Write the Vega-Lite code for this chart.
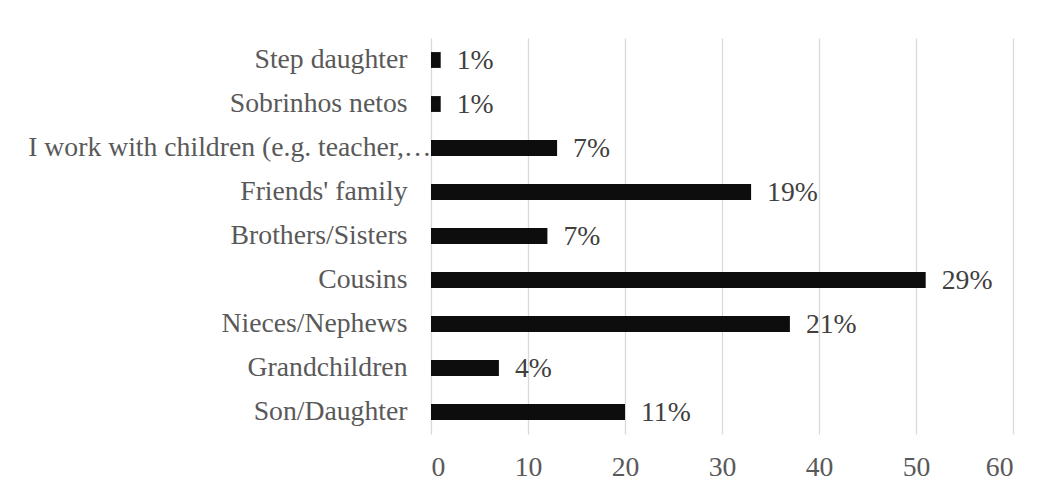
{
  "$schema": "https://vega.github.io/schema/vega-lite/v6.json",
  "width": 582,
  "height": 396,
  "autosize": {"type": "none"},
  "padding": {"left": 431, "top": 38, "right": 32, "bottom": 58},
  "background": "white",
  "config": {"view": {"stroke": null}, "font": "Liberation Serif"},
  "data": {"values": [
    {"category": "Step daughter", "count": 1, "label": "1%"},
    {"category": "Sobrinhos netos", "count": 1, "label": "1%"},
    {"category": "I work with children (e.g. teacher,…", "count": 13, "label": "7%"},
    {"category": "Friends' family", "count": 33, "label": "19%"},
    {"category": "Brothers/Sisters", "count": 12, "label": "7%"},
    {"category": "Cousins", "count": 51, "label": "29%"},
    {"category": "Nieces/Nephews", "count": 37, "label": "21%"},
    {"category": "Grandchildren", "count": 7, "label": "4%"},
    {"category": "Son/Daughter", "count": 20, "label": "11%"}
  ]},
  "encoding": {
    "y": {
      "field": "category", "type": "nominal", "sort": null,
      "scale": {"paddingInner": 0.64, "paddingOuter": 0.32},
      "axis": {
        "title": null, "domain": false, "ticks": false,
        "labelFont": "Liberation Serif", "labelFontSize": 27.7, "labelColor": "#595959",
        "labelLimit": 500,
        "labelPadding": {"condition": {"test": "indexof(datum.value, 'I work') === 0", "value": 0}, "value": 24}
      }
    }
  },
  "layer": [
    {
      "mark": {"type": "bar", "color": "#0d0d0d"},
      "encoding": {
        "x": {
          "field": "count", "type": "quantitative",
          "scale": {"domain": [0, 60], "nice": false},
          "axis": {
            "title": null, "domain": false, "ticks": false, "values": [0, 10, 20, 30, 40, 50, 60],
            "grid": true, "gridColor": "#d9d9d9", "gridWidth": 1.3,
            "labelFont": "Liberation Serif", "labelFontSize": 27.7, "labelColor": "#595959",
            "labelPadding": 19
          }
        }
      }
    },
    {
      "mark": {"type": "text", "align": "left", "baseline": "middle", "dx": 16, "dy": 1, "font": "Liberation Serif", "fontSize": 27.7, "color": "#404040"},
      "encoding": {
        "x": {"field": "count", "type": "quantitative"},
        "text": {"field": "label"}
      }
    }
  ]
}
